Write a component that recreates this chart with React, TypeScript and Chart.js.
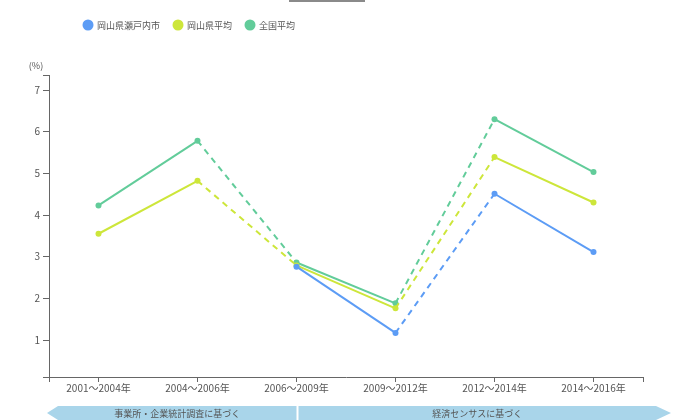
import { useEffect, useRef } from "react";
import { Chart, registerables } from "chart.js";

Chart.register(...registerables);

// 期間（横軸）
const periods = ["2001～2004年", "2004～2006年", "2006～2009年", "2009～2012年", "2012～2014年", "2014～2016年"];

// 開業率（%）
const setouchi = [null, null, 2.76, 1.17, 4.51, 3.11];
const okayamaAvg = [3.55, 4.82, 2.79, 1.76, 5.39, 4.3];
const nationalAvg = [4.23, 5.78, 2.86, 1.88, 6.3, 5.03];

const seriesNames = ["岡山県瀬戸内市", "岡山県平均", "全国平均"];
const seriesColors = ["#5c9cf5", "#cde63a", "#62cc9a"];

// 縦軸目盛
const yTickValues = [1, 2, 3, 4, 5, 6, 7];
const yMin = 0.112;
const yMax = 7.36;
const unitLabel = "(%)";

// 調査区分（下の帯）
const sourceLabels = ["事業所・企業統計調査に基づく", "経済センサスに基づく"];
const sourceSplitIndex = 2;

// 調査方法が変わる区間は破線でつなぐ
const dashedFrom = [1, 3];

const FONT = '"Noto Sans CJK JP", "Noto Sans", sans-serif';
const TEXT = "#555555";
const AXIS = "#666666";

const decorations = {
  id: "decorations",
  afterDraw(chart: any) {
    const { ctx, chartArea, scales } = chart;
    ctx.save();

    // 見出しの下線
    ctx.fillStyle = "#8a8a8a";
    ctx.fillRect(289, 0, 76, 2);

    // 単位
    ctx.fillStyle = TEXT;
    ctx.font = `9px ${FONT}`;
    ctx.textAlign = "center";
    ctx.textBaseline = "middle";
    ctx.fillText(unitLabel, chartArea.left - 13, chartArea.top - 9);

    // 凡例
    let cursor = 82;
    const ly = 25;
    ctx.font = `9px ${FONT}`;
    ctx.textAlign = "left";
    chart.data.datasets.forEach((ds: any) => {
      ctx.beginPath();
      ctx.arc(cursor + 6, ly, 5.5, 0, Math.PI * 2);
      ctx.fillStyle = ds.borderColor;
      ctx.fill();
      ctx.fillStyle = TEXT;
      ctx.fillText(ds.label, cursor + 15, ly + 0.5);
      cursor += 15 + ctx.measureText(ds.label).width + 12;
    });

    // 調査区分の帯
    const x = scales.x;
    const split = x.getPixelForValue(sourceSplitIndex);
    const top = 406;
    const h = 14;
    const mid = top + h / 2;
    const leftTip = chartArea.left - 2;
    const rightTip = chartArea.right + 28;
    ctx.fillStyle = "#a9d5ea";

    ctx.beginPath();
    ctx.moveTo(leftTip, mid);
    ctx.lineTo(leftTip + 11, top);
    ctx.lineTo(split, top);
    ctx.lineTo(split, top + h);
    ctx.lineTo(leftTip + 11, top + h);
    ctx.closePath();
    ctx.fill();

    ctx.beginPath();
    ctx.moveTo(split + 2, top);
    ctx.lineTo(rightTip - 15, top);
    ctx.lineTo(rightTip, mid);
    ctx.lineTo(rightTip - 15, top + h);
    ctx.lineTo(split + 2, top + h);
    ctx.closePath();
    ctx.fill();

    ctx.fillStyle = TEXT;
    ctx.font = `9px ${FONT}`;
    ctx.textAlign = "center";
    ctx.fillText(sourceLabels[0], (leftTip + 11 + split) / 2, mid + 0.5);
    ctx.fillText(sourceLabels[1], (split + 2 + rightTip - 15) / 2, mid + 0.5);

    ctx.restore();
  },
};

export default function App() {
  const canvasRef = useRef<HTMLCanvasElement | null>(null);

  useEffect(() => {
    if (!canvasRef.current) return;
    const seriesValues = [setouchi, okayamaAvg, nationalAvg];
    const chart = new Chart(canvasRef.current, {
      type: "line",
      data: {
        datasets: seriesValues.map((vals, s) => ({
          label: seriesNames[s],
          data: vals.map((v, i) => ({ x: i, y: v })),
          borderColor: seriesColors[s],
          backgroundColor: seriesColors[s],
          pointBackgroundColor: seriesColors[s],
          pointBorderColor: seriesColors[s],
          pointRadius: 3,
          pointBorderWidth: 0,
          borderWidth: 2,
          tension: 0,
          spanGaps: false,
          segment: {
            borderDash: (c: any) => (dashedFrom.includes(c.p0DataIndex) ? [6, 5] : undefined),
          },
        })),
      },
      options: {
        animation: false,
        responsive: true,
        maintainAspectRatio: false,
        events: [],
        layout: { padding: { left: 0, right: 57, top: 75, bottom: 0 } },
        plugins: {
          legend: { display: false },
          tooltip: { enabled: false },
        },
        scales: {
          x: {
            type: "linear",
            min: -0.5,
            max: periods.length - 0.5,
            afterBuildTicks: (scale: any) => {
              scale.ticks = [-0.5, ...periods.map((_, i) => i), periods.length - 0.5].map((v) => ({ value: v }));
            },
            afterFit: (scale: any) => {
              scale.height = 43;
            },
            grid: {
              display: true,
              drawOnChartArea: false,
              drawTicks: true,
              tickLength: 5,
              color: AXIS,
              lineWidth: 1,
            },
            border: { display: true, color: AXIS, width: 1 },
            ticks: {
              autoSkip: false,
              maxRotation: 0,
              padding: 0,
              color: TEXT,
              font: { family: FONT, size: 10 },
              callback: (v: any) => (Number.isInteger(v) ? periods[v] : ""),
            },
          },
          y: {
            type: "linear",
            min: yMin,
            max: yMax,
            afterBuildTicks: (scale: any) => {
              scale.ticks = [yMin, ...yTickValues, yMax].map((v) => ({ value: v }));
            },
            afterFit: (scale: any) => {
              scale.width = 49;
            },
            grid: {
              display: true,
              drawOnChartArea: false,
              drawTicks: true,
              tickLength: 6,
              color: AXIS,
              lineWidth: 1,
            },
            border: { display: true, color: AXIS, width: 1 },
            ticks: {
              autoSkip: false,
              padding: 3,
              color: TEXT,
              font: { family: FONT, size: 10 },
              callback: (v: any) => (yTickValues.includes(v) ? String(v) : ""),
            },
          },
        },
      },
      plugins: [decorations],
    });
    return () => chart.destroy();
  }, []);

  return (
    <div style={{ position: "fixed", left: 0, top: 0, width: 700, height: 420, background: "#ffffff" }}>
      <canvas ref={canvasRef} />
    </div>
  );
}
